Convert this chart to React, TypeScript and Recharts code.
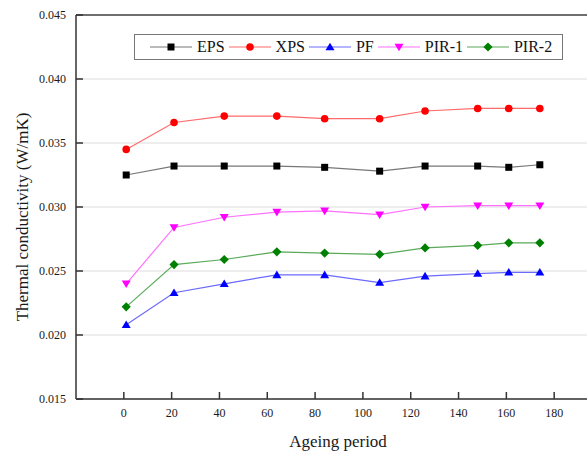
import { LineChart, Line, XAxis, YAxis, CartesianGrid, ReferenceLine } from 'recharts';

// ageing period (x) and thermal conductivity per insulation type (W/mK)
const ageingPeriod = [1, 21, 42, 64, 84, 107, 126, 148, 161, 174];
const eps = [0.0325, 0.0332, 0.0332, 0.0332, 0.0331, 0.0328, 0.0332, 0.0332, 0.0331, 0.0333];
const xps = [0.0345, 0.0366, 0.0371, 0.0371, 0.0369, 0.0369, 0.0375, 0.0377, 0.0377, 0.0377];
const pf = [0.0208, 0.0233, 0.0240, 0.0247, 0.0247, 0.0241, 0.0246, 0.0248, 0.0249, 0.0249];
const pir1 = [0.0240, 0.0284, 0.0292, 0.0296, 0.0297, 0.0294, 0.0300, 0.0301, 0.0301, 0.0301];
const pir2 = [0.0222, 0.0255, 0.0259, 0.0265, 0.0264, 0.0263, 0.0268, 0.0270, 0.0272, 0.0272];

const xTicks = [0, 20, 40, 60, 80, 100, 120, 140, 160, 180];
const yTicks = [0.015, 0.02, 0.025, 0.03, 0.035, 0.04, 0.045];

const FONT = '"Liberation Serif", serif';
const textStyle = { fontFamily: FONT };

const seriesList = [
  { key: 'EPS', values: eps, color: '#000000', line: '#777777', shape: 'square' },
  { key: 'XPS', values: xps, color: '#ff0000', line: '#ff6a6a', shape: 'circle' },
  { key: 'PF', values: pf, color: '#0000ff', line: '#6a6aff', shape: 'up' },
  { key: 'PIR-1', values: pir1, color: '#ff00ff', line: '#ff70ff', shape: 'down' },
  { key: 'PIR-2', values: pir2, color: '#008000', line: '#5aaa5a', shape: 'diamond' },
];

const data = ageingPeriod.map((x, i) => {
  const row: Record<string, number> = { x };
  seriesList.forEach((s) => (row[s.key] = s.values[i]));
  return row;
});

function Marker({ shape, cx, cy, color }: { shape: string; cx: number; cy: number; color: string }) {
  if (shape === 'square') return <rect x={cx - 3.5} y={cy - 3.5} width={7} height={7} fill={color} />;
  if (shape === 'circle') return <circle cx={cx} cy={cy} r={3.8} fill={color} />;
  if (shape === 'up')
    return <polygon points={`${cx},${cy - 4.3} ${cx + 4.5},${cy + 3.3} ${cx - 4.5},${cy + 3.3}`} fill={color} />;
  if (shape === 'down')
    return <polygon points={`${cx},${cy + 4.3} ${cx + 4.5},${cy - 3.3} ${cx - 4.5},${cy - 3.3}`} fill={color} />;
  return <polygon points={`${cx},${cy - 4.6} ${cx + 4.6},${cy} ${cx},${cy + 4.6} ${cx - 4.6},${cy}`} fill={color} />;
}

const XTick = ({ x, y, payload }: any) => (
  <g>
    <line x1={x} y1={y} x2={x} y2={y - 7} stroke="#333" strokeWidth={1.5} />
    <text x={x} y={y + 14} textAnchor="middle" dominantBaseline="central" fontSize={12} style={textStyle} fill="#1a1a1a">
      {payload.value}
    </text>
  </g>
);

const YTick = ({ x, y, payload }: any) => (
  <g>
    <line x1={x} y1={y} x2={x + 7} y2={y} stroke="#333" strokeWidth={1.5} />
    <text x={x - 10} y={y} textAnchor="end" dominantBaseline="central" fontSize={12} style={textStyle} fill="#1a1a1a">
      {Number(payload.value).toFixed(3)}
    </text>
  </g>
);

function LegendBox() {
  return (
    <div
      style={{
        position: 'absolute',
        left: 134,
        top: 34,
        height: 24,
        border: '1px solid #777',
        background: '#fff',
        display: 'flex',
        alignItems: 'center',
        paddingLeft: 15,
        paddingRight: 6,
        fontFamily: FONT,
        fontSize: 16,
        color: '#111',
      }}
    >
      {seriesList.map((s) => (
        <div key={s.key} style={{ display: 'flex', alignItems: 'center' }}>
          <svg width={42} height={12} style={{ display: 'block' }}>
            <line x1={0} y1={6} x2={42} y2={6} stroke={s.line} strokeWidth={1.2} />
            <Marker shape={s.shape} cx={21} cy={6} color={s.color} />
          </svg>
          <span style={{ marginLeft: 5, marginRight: 4, lineHeight: '16px' }}>{s.key}</span>
        </div>
      ))}
    </div>
  );
}

export default function App() {
  return (
    <div style={{ position: 'fixed', left: 0, top: 0, width: 587, height: 456, overflow: 'hidden', background: '#fff' }}>
      <LineChart width={602} height={456} data={data} margin={{ top: 15, right: 0, bottom: 0, left: 0 }}>
        <CartesianGrid vertical={false} stroke="#dddddd" />
        <XAxis
          dataKey="x"
          type="number"
          domain={[-20, 200]}
          ticks={xTicks}
          height={57}
          allowDataOverflow
          stroke="#333"
          strokeWidth={1.5}
          tickLine={false}
          tickSize={0}
          tickMargin={0}
          tick={<XTick />}
          label={{
            content: () => (
              <text x={338} y={441} textAnchor="middle" dominantBaseline="central" fontSize={17} style={textStyle} fill="#1a1a1a">
                Ageing period
              </text>
            ),
          }}
        />
        <YAxis
          type="number"
          domain={[0.015, 0.045]}
          ticks={yTicks}
          width={76}
          allowDataOverflow
          stroke="#333"
          strokeWidth={1.5}
          tickLine={false}
          tickSize={0}
          tickMargin={0}
          tick={<YTick />}
          label={{
            content: () => (
              <text
                x={22}
                y={217}
                transform="rotate(-90 22 217)"
                textAnchor="middle"
                dominantBaseline="central"
                fontSize={17}
                style={textStyle}
                fill="#1a1a1a"
              >
                Thermal conductivity (W/mK)
              </text>
            ),
          }}
        />
        <ReferenceLine y={0.045} stroke="#444" strokeWidth={1.5} />
        <ReferenceLine x={200} stroke="#444" strokeWidth={1.5} />
        {seriesList.map((s) => (
          <Line
            key={s.key}
            dataKey={s.key}
            stroke={s.line}
            strokeWidth={1.2}
            isAnimationActive={false}
            activeDot={false}
            dot={(p: any) => <Marker key={`${s.key}-${p.index}`} shape={s.shape} cx={p.cx} cy={p.cy} color={s.color} />}
          />
        ))}
      </LineChart>
      <LegendBox />
    </div>
  );
}
